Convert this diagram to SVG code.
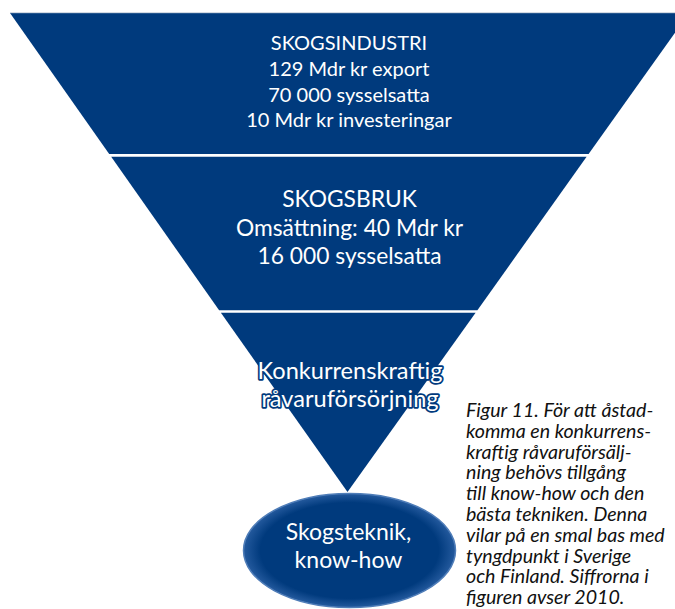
<svg xmlns="http://www.w3.org/2000/svg" width="675" height="609" viewBox="0 0 675 609">
  <defs>
    <radialGradient id="ellFill" cx="50%" cy="50%" r="50%">
      <stop offset="0.84" stop-color="#003a7d"/>
      <stop offset="1" stop-color="#245a9e"/>
    </radialGradient>
    <style>
      .band { fill: #003a7d; }
      .t { font-family: "Lato", "Liberation Sans", sans-serif; fill: #ffffff; text-anchor: middle; }
      .t1 { font-size: 20px; }
      .t2 { font-size: 22.8px; }
      .t3 { font-size: 23.6px; stroke: #003a7d; stroke-width: 3.5px; paint-order: stroke; stroke-linejoin: round; }
      .t4 { font-size: 23px; }
      .cap { font-family: "Lato", "Liberation Sans", sans-serif; font-style: italic; font-size: 19.6px; fill: #111111; }
    </style>
  </defs>
  <rect width="675" height="609" fill="#ffffff"/>
  <g id="connectors"/>
  <g id="node-skogsindustri">
    <polygon class="band" points="10,13 689,13 588.6,154 109.2,154"/>
    <line x1="10" y1="12.7" x2="675" y2="12.7" stroke="#c9d2de" stroke-width="1"/>
    <text class="t t1" x="349" y="50">SKOGSINDUSTRI</text>
    <text class="t t1" x="349" y="76">129 Mdr kr export</text>
    <text class="t t1" x="349" y="102">70 000 sysselsatta</text>
    <text class="t t1" x="349" y="127">10 Mdr kr investeringar</text>
  </g>
  <g id="node-skogsbruk">
    <polygon class="band" points="111.2,156.8 586.6,156.8 477.4,310.2 219.1,310.2"/>
    <text class="t t2" x="349.5" y="207">SKOGSBRUK</text>
    <text class="t t2" x="349.5" y="236">Omsättning: 40 Mdr kr</text>
    <text class="t t2" x="349.5" y="264">16 000 sysselsatta</text>
  </g>
  <g id="node-ravaruforsorjning">
    <polygon class="band" points="220.9,312.8 475.6,312.8 347.5,492"/>
    <text class="t t3" x="350" y="379">Konkurrenskraftig</text>
    <text class="t t3" x="350" y="407">råvaruförsörjning</text>
  </g>
  <g id="node-skogsteknik">
    <ellipse cx="349.5" cy="550.5" rx="106" ry="57" fill="url(#ellFill)" stroke="#4f7db8" stroke-width="1.5"/>
    <text class="t t4" x="348.5" y="540">Skogsteknik,</text>
    <text class="t t4" x="348.5" y="568">know-how</text>
  </g>
  <g id="caption">
    <text class="cap" x="466" y="417">Figur 11. För att åstad-</text>
    <text class="cap" x="466" y="437.8">komma en konkurrens-</text>
    <text class="cap" x="466" y="458.6">kraftig råvaruförsälj-</text>
    <text class="cap" x="466" y="479.4">ning behövs tillgång</text>
    <text class="cap" x="466" y="500.2">till know-how och den</text>
    <text class="cap" x="466" y="521">bästa tekniken. Denna</text>
    <text class="cap" x="466" y="541.8">vilar på en smal bas med</text>
    <text class="cap" x="466" y="562.6">tyngdpunkt i Sverige</text>
    <text class="cap" x="466" y="583.4">och Finland. Siffrorna i</text>
    <text class="cap" x="466" y="604.2">figuren avser 2010.</text>
  </g>
</svg>
